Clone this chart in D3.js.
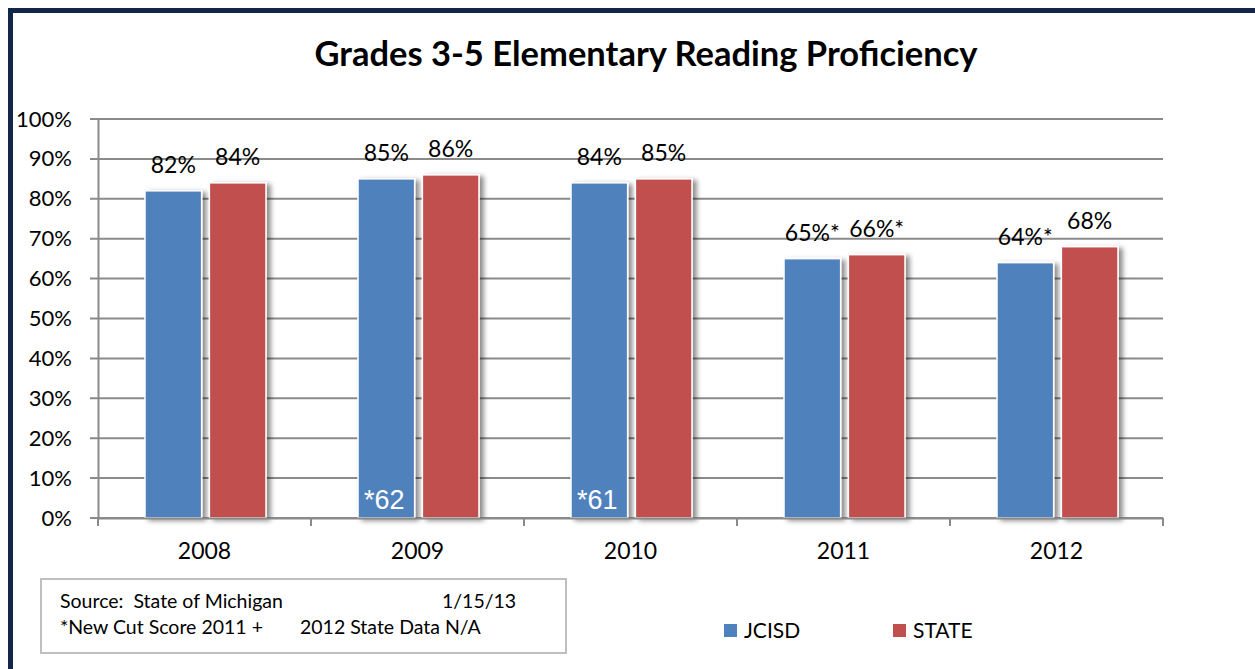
<!DOCTYPE html>
<html>
<head>
<meta charset="utf-8">
<script src="https://cdn.jsdelivr.net/npm/d3@7"></script>
<style>
  body { margin: 0; background: #fff; }
  svg text { font-family: Lato, "Open Sans", sans-serif; }
</style>
</head>
<body>
<div id="container"></div>
<script>
/* DATA */
const years = ["2008", "2009", "2010", "2011", "2012"];
const seriesNames = ["JCISD", "STATE"];
const jcisd = [82, 85, 84, 65, 64];
const state = [84, 86, 85, 66, 68];
const jcisdLabels = ["82%", "85%", "84%", "65%*", "64%*"];
const stateLabels = ["84%", "86%", "85%", "66%*", "68%"];
const innerLabels = ["", "*62", "*61", "", ""]; // old cut score numbers inside JCISD bars
const yTicks = [0, 10, 20, 30, 40, 50, 60, 70, 80, 90, 100];

/* CONSTANTS */
const width = 1255, height = 669;
const margin = { top: 119, bottom: 153, left: 98, right: 92 };
const colors = { JCISD: "#4f81bd", STATE: "#c0504d" };

const rows = years.map((y, i) => ({
  year: y,
  values: [
    { key: "JCISD", value: jcisd[i], label: jcisdLabels[i], inner: innerLabels[i] },
    { key: "STATE", value: state[i], label: stateLabels[i], inner: "" }
  ]
}));

const svg = d3.select("#container").append("svg")
  .attr("width", width)
  .attr("height", height);

/* shadow for bars */
const defs = svg.append("defs");
const f = defs.append("filter").attr("id", "shadow")
  .attr("x", "-20%").attr("y", "-5%").attr("width", "160%").attr("height", "120%");
f.append("feDropShadow")
  .attr("dx", 4).attr("dy", 2).attr("stdDeviation", 2.5)
  .attr("flood-color", "#000").attr("flood-opacity", 0.45);

/* navy frame */
svg.append("rect")
  .attr("x", 10.5).attr("y", 10.5)
  .attr("width", width + 20).attr("height", height + 20)
  .attr("fill", "none")
  .attr("stroke", "#12264a")
  .attr("stroke-width", 5);

/* SCALES */
const x0 = d3.scaleBand()
  .domain(years)
  .range([margin.left, width - margin.right])
  .padding(0);

const x1 = d3.scaleBand()
  .domain(seriesNames)
  .range([47, 168])
  .paddingInner(0.12);

const y = d3.scaleLinear()
  .domain([0, 100])
  .range([height - margin.bottom + 2, margin.top]);

/* title */
svg.append("text")
  .attr("x", 646).attr("y", 66)
  .attr("text-anchor", "middle")
  .style("font-size", "34.5px")
  .style("font-weight", "bold")
  .text("Grades 3-5 Elementary Reading Proficiency");

/* gridlines */
svg.append("g")
  .selectAll("line")
  .data(yTicks)
  .join("line")
  .attr("x1", margin.left - 8)
  .attr("x2", width - margin.right)
  .attr("y1", d => y(d))
  .attr("y2", d => y(d))
  .attr("stroke", "#8a8a8a")
  .attr("stroke-width", 2);

/* y axis */
const yAxis = d3.axisLeft(y)
  .tickValues(yTicks)
  .tickSize(0)
  .tickPadding(26)
  .tickFormat(d => d + "%");
const yg = svg.append("g")
  .attr("transform", `translate(${margin.left}, 0)`)
  .call(yAxis);
yg.select(".domain").attr("stroke", "#8a8a8a").attr("stroke-width", 2);
yg.selectAll("text")
  .style("font-size", "22px")
  .style("font-family", "Lato, sans-serif")
  .attr("fill", "#000");

/* bars */
const groups = svg.append("g")
  .selectAll("g")
  .data(rows)
  .join("g")
  .attr("transform", d => `translate(${x0(d.year)}, 0)`);

groups.selectAll("rect")
  .data(d => d.values)
  .join("rect")
  .attr("x", d => x1(d.key))
  .attr("y", d => y(d.value))
  .attr("width", x1.bandwidth())
  .attr("height", d => y(0) - y(d.value))
  .attr("fill", d => colors[d.key])
  .attr("stroke", "#fff")
  .attr("stroke-width", 1.5)
  .attr("filter", "url(#shadow)");

/* value labels */
groups.selectAll(".val")
  .data(d => d.values)
  .join("text")
  .attr("class", "val")
  .attr("x", d => x1(d.key) + x1.bandwidth() / 2)
  .attr("y", d => y(d.value) - 18)
  .attr("text-anchor", "middle")
  .style("font-size", "23px")
  .text(d => d.label);

/* inner labels */
groups.selectAll(".inner")
  .data(d => d.values.filter(v => v.inner))
  .join("text")
  .attr("class", "inner")
  .attr("x", d => x1(d.key) + x1.bandwidth() / 2 - 2)
  .attr("y", y(0) - 9)
  .attr("text-anchor", "middle")
  .attr("fill", "#fff")
  .style("font-size", "27px")
  .style("font-family", "'Liberation Sans', Arial, sans-serif")
  .text(d => d.inner);

/* x axis */
const xAxis = d3.axisBottom(x0).tickSize(0).tickPadding(25);
const xg = svg.append("g")
  .attr("transform", `translate(0, ${y(0)})`)
  .call(xAxis);
xg.select(".domain").attr("stroke", "#8a8a8a").attr("stroke-width", 2);
xg.selectAll("text")
  .style("font-size", "23px")
  .style("font-family", "Lato, sans-serif")
  .attr("fill", "#000");

const bounds = years.map(d => x0(d)).concat([x0.range()[1]]);
xg.selectAll(".bound")
  .data(bounds)
  .join("line")
  .attr("class", "bound")
  .attr("x1", d => d).attr("x2", d => d)
  .attr("y1", 0).attr("y2", 8)
  .attr("stroke", "#8a8a8a")
  .attr("stroke-width", 2);

/* source box */
svg.append("rect")
  .attr("x", 41).attr("y", 579)
  .attr("width", 525).attr("height", 74)
  .attr("fill", "#fff")
  .attr("stroke", "#bfbfbf")
  .attr("stroke-width", 2);
svg.append("text").attr("x", 60).attr("y", 608)
  .style("font-size", "19.5px").attr("xml:space", "preserve")
  .text("Source:  State of Michigan");
svg.append("text").attr("x", 442).attr("y", 608)
  .style("font-size", "19.5px")
  .text("1/15/13");
svg.append("text").attr("x", 60).attr("y", 634)
  .style("font-size", "19.5px")
  .text("*New Cut Score 2011 +");
svg.append("text").attr("x", 300).attr("y", 634)
  .style("font-size", "19.5px")
  .text("2012 State Data N/A");

/* legend */
const legend = svg.append("g")
  .selectAll("g")
  .data(seriesNames)
  .join("g")
  .attr("transform", (d, i) => `translate(${724 + i * 169}, 624)`);
legend.append("rect")
  .attr("width", 13).attr("height", 13)
  .attr("fill", d => colors[d]);
legend.append("text")
  .attr("x", 20).attr("y", 14)
  .style("font-size", "21px")
  .text(d => d);
</script>
</body>
</html>
